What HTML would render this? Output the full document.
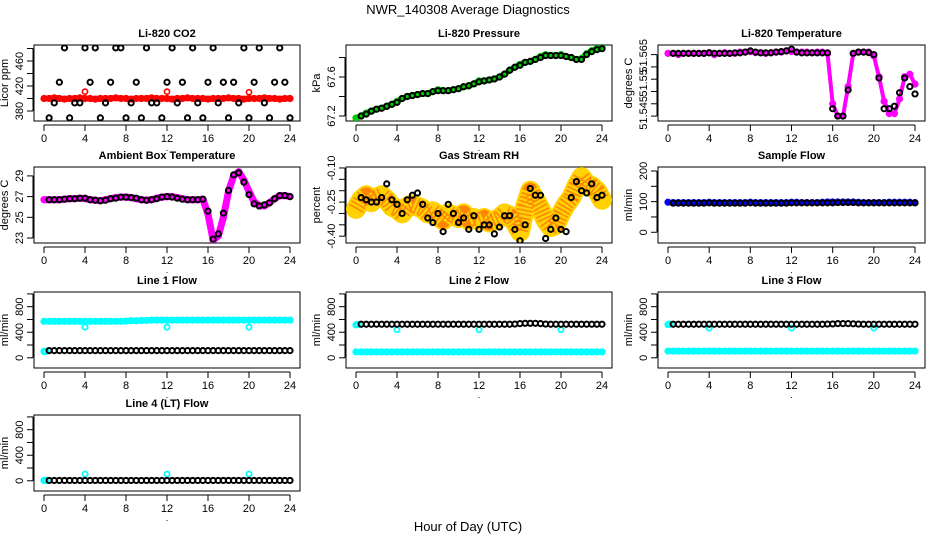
<!DOCTYPE html>
<html><head><meta charset="utf-8">
<style>
html,body{margin:0;padding:0;background:#fff;}
svg{display:block;font-family:"Liberation Sans",Arial,sans-serif;}
</style></head>
<body>
<svg id="chart" width="936" height="540" viewBox="0 0 936 540" xmlns="http://www.w3.org/2000/svg">
<text x="468" y="14" font-size="13" text-anchor="middle">NWR_140308  Average Diagnostics</text>
<text x="468" y="531" font-size="13" text-anchor="middle">Hour of Day (UTC)</text>
</svg>
<script>
const hAll=[0,0.5,1,1.5,2,2.5,3,3.5,4,4.5,5,5.5,6,6.5,7,7.5,8,8.5,9,9.5,10,10.5,11,11.5,12,12.5,13,13.5,14,14.5,15,15.5,16,16.5,17,17.5,18,18.5,19,19.5,20,20.5,21,21.5,22,22.5,23,23.5,24];
const hBlk=[0.5,1,1.5,2,2.5,3,3.5,4,4.5,5,5.5,6,6.5,7,7.5,8,8.5,9,9.5,10,10.5,11,11.5,12,12.5,13,13.5,14,14.5,15,15.5,16,16.5,17,17.5,18,18.5,19,19.5,20,20.5,21,21.5,22,22.5,23,23.5,24];
const hOut=[4,12,20];
const xTicks=[0,4,8,12,16,20,24];

const co2Black=[369,393,426,481,369,393,393,481,426,481,369,393,426,481,481,369,393,426,369,481,393,393,369,426,481,393,426,369,481,393,369,426,481,393,426,369,426,393,481,369,426,481,393,369,426,481,426,369];
const co2Red=[400,400,401,400,399,400,400,401,400,400,399,400,400,400,401,400,400,399,400,400,400,401,400,400,400,399,400,400,401,400,400,400,399,400,400,400,401,400,400,399,400,400,400,401,400,400,399,400,400];
const co2RedOut=[411,411,410];

const presGreen=[67.18,67.20,67.23,67.25,67.27,67.28,67.30,67.32,67.35,67.38,67.40,67.41,67.42,67.43,67.43,67.45,67.47,67.46,67.46,67.47,67.48,67.50,67.51,67.53,67.56,67.56,67.57,67.58,67.60,67.63,67.67,67.70,67.73,67.75,67.76,67.78,67.81,67.83,67.82,67.82,67.83,67.81,67.80,67.78,67.79,67.84,67.87,67.89,67.90];
const presBlack=[67.20,67.22,67.25,67.27,67.28,67.30,67.32,67.34,67.38,67.40,67.41,67.42,67.43,67.43,67.45,67.46,67.46,67.46,67.47,67.48,67.50,67.51,67.53,67.55,67.56,67.57,67.58,67.60,67.63,67.67,67.70,67.72,67.75,67.76,67.78,67.80,67.82,67.82,67.82,67.82,67.81,67.80,67.78,67.78,67.83,67.86,67.88,67.89];

const tempMag=[51.5655,51.5655,51.565,51.5655,51.5655,51.5655,51.5655,51.5655,51.5658,51.565,51.5655,51.5658,51.5655,51.5655,51.566,51.566,51.5662,51.5658,51.5658,51.5655,51.5658,51.566,51.566,51.5665,51.5662,51.566,51.566,51.566,51.5658,51.566,51.566,51.5655,51.545,51.540,51.540,51.552,51.5655,51.566,51.566,51.566,51.5645,51.556,51.546,51.541,51.541,51.547,51.556,51.557,51.553];
const tempBlack=[51.5655,51.5655,51.5655,51.5655,51.5655,51.5655,51.5655,51.5657,51.5655,51.5655,51.5655,51.5655,51.5657,51.5657,51.566,51.5665,51.566,51.5657,51.5657,51.5657,51.566,51.5662,51.5665,51.5672,51.566,51.5657,51.5657,51.5657,51.5657,51.5657,51.5657,51.543,51.540,51.540,51.5506,51.5655,51.566,51.566,51.5658,51.565,51.5555,51.543,51.543,51.544,51.5495,51.5555,51.552,51.549];

const ambMag=[26.7,26.7,26.7,26.7,26.75,26.8,26.8,26.85,26.8,26.7,26.65,26.6,26.7,26.8,26.9,26.95,26.95,26.9,26.8,26.7,26.65,26.7,26.85,26.95,27.0,27.0,26.9,26.8,26.7,26.7,26.7,26.75,25.3,22.8,23.2,25.0,27.5,29.0,29.4,28.6,27.5,26.5,26.1,26.1,26.4,26.8,27.1,27.1,27.0];
const ambBlack=[26.7,26.7,26.7,26.75,26.8,26.8,26.85,26.85,26.7,26.65,26.6,26.65,26.8,26.85,26.95,26.95,26.9,26.85,26.7,26.65,26.7,26.8,26.95,27.0,26.95,26.85,26.75,26.7,26.7,26.7,26.75,25.6,22.9,23.4,25.4,27.6,29.1,29.3,28.4,27.2,26.3,26.1,26.2,26.4,26.8,27.1,27.1,27.0];

const rhOrange=[-0.28,-0.24,-0.22,-0.25,-0.23,-0.22,-0.24,-0.27,-0.28,-0.30,-0.27,-0.26,-0.27,-0.28,-0.30,-0.29,-0.31,-0.33,-0.30,-0.31,-0.32,-0.30,-0.33,-0.32,-0.33,-0.32,-0.34,-0.33,-0.32,-0.30,-0.31,-0.34,-0.38,-0.27,-0.20,-0.24,-0.28,-0.33,-0.36,-0.35,-0.30,-0.26,-0.23,-0.18,-0.14,-0.17,-0.18,-0.20,-0.24];
const rhBlack=[-0.23,-0.24,-0.25,-0.25,-0.23,-0.17,-0.24,-0.26,-0.30,-0.24,-0.22,-0.21,-0.26,-0.32,-0.34,-0.30,-0.38,-0.26,-0.30,-0.34,-0.32,-0.37,-0.31,-0.37,-0.35,-0.35,-0.39,-0.36,-0.31,-0.31,-0.37,-0.42,-0.35,-0.19,-0.22,-0.22,-0.41,-0.37,-0.32,-0.37,-0.38,-0.23,-0.16,-0.20,-0.21,-0.17,-0.23,-0.22];

const sampBlue=[98,97,97,97,97,97,97,97,98,97,97,97,97,97,97,97,98,97,97,97,97,97,97,97,98,98,97,97,97,97,98,99,99,99,99,99,99,98,97,97,97,97,97,98,98,98,98,98,97];
const sampBlack=[95,95,95,95,95,95,95,96,95,95,95,95,95,95,95,96,95,95,95,95,95,95,95,96,96,96,96,96,96,96,96,96,97,97,97,97,96,96,96,96,96,96,96,96,96,96,96,96];

const l1Cyan=[570,570,570,570,570,570,570,570,570,570,570,570,570,570,570,570,575,580,580,585,585,590,590,590,590,590,590,590,590,590,590,590,590,590,590,590,590,590,590,590,590,590,590,590,590,590,590,590,590];
const l1CyanLow=[100,100,100];
const l1CyanOut=[480,480,480];
const l1Black=[112,112,112,112,112,112,112,112,112,112,112,112,112,112,112,112,112,112,112,112,112,112,112,112,112,112,112,112,112,112,112,112,112,112,112,112,112,112,112,112,112,112,112,112,112,112,112,112];

const l2Cyan=[92,92,92,92,92,92,92,92,92,92,92,92,92,92,92,92,92,92,92,92,92,92,92,92,92,92,92,92,92,92,92,92,92,92,92,92,92,92,92,92,92,92,92,92,92,92,92,92,92];
const l2CyanHigh=[515,520,520];
const l2CyanOut=[440,440,440];
const l2Black=[525,525,525,525,525,525,525,525,525,525,525,525,525,525,525,525,525,525,525,525,525,525,525,525,525,525,525,525,525,525,528,535,540,540,540,535,528,525,525,525,525,525,525,525,525,525,525,525];

const l3Cyan=[105,105,105,105,105,105,105,105,105,105,105,105,105,105,105,105,105,105,105,105,105,105,105,105,105,105,105,105,105,105,105,105,105,105,105,105,105,105,105,105,105,105,105,105,105,105,105,105,105];
const l3CyanHigh=[520,525,525];
const l3CyanOut=[465,465,465];
const l3Black=[525,525,525,525,525,525,525,525,525,525,525,525,525,525,525,525,525,525,525,525,525,525,525,525,525,525,525,525,525,525,528,530,535,535,535,532,528,525,525,525,525,525,525,525,525,525,525,525];

const l4Cyan=[5,5,5];
const l4CyanOut=[105,105,105];
const l4Black=[5,5,5,5,5,5,5,5,5,5,5,5,5,5,5,5,5,5,5,5,5,5,5,5,5,5,5,5,5,5,5,5,5,5,5,5,5,5,5,5,5,5,5,5,5,5,5,5];

const NS='http://www.w3.org/2000/svg';
const svg=document.getElementById('chart');
const colL=[34,346,658], colR=[300,612,925];
const rowT=[45,167,292,415];
function mk(tag,attrs,parent){const e=document.createElementNS(NS,tag);for(const k in attrs)e.setAttribute(k,attrs[k]);(parent||svg).appendChild(e);return e;}

function panel(cfg){
  const L=colL[cfg.col],R=colR[cfg.col],T=rowT[cfg.row],B=T+76;
  const g=mk('g',{});
  
  
  const xs=h=>L+10+(h/24)*(R-L-20);
  const ys=v=>B-(v-cfg.ymin)/(cfg.ymax-cfg.ymin)*(B-T);
  const t=mk('text',{x:(L+R)/2,y:T-8,'font-size':11,'font-weight':'bold','text-anchor':'middle'},g);
  t.textContent=cfg.title;
  
  
  const box=mk('rect',{x:L,y:T,width:R-L,height:B-T,fill:'none',stroke:'#000','stroke-width':1},g);
  
  
  const xa=mk('g',{},g);
  
  
  mk('line',{x1:xs(0),x2:xs(24),y1:B+4,y2:B+4,stroke:'#000'},xa);
  xTicks.forEach(v=>{
    mk('line',{x1:xs(v),x2:xs(v),y1:B+4,y2:B+10,stroke:'#000'},xa);
    const tl=mk('text',{x:xs(v),y:B+21,'font-size':11,'text-anchor':'middle'},xa);
    tl.textContent=v;
    
    
  });
  const dot=mk('text',{x:(L+R)/2,y:B+30,'font-size':9,'text-anchor':'middle'},xa);
  dot.textContent='.';
  const ya=mk('g',{},g);
  
  
  const yt=cfg.yticks;
  mk('line',{x1:L-1,x2:L-1,y1:ys(yt[0]),y2:ys(yt[yt.length-1]),stroke:'#000'},ya);
  yt.forEach(v=>{mk('line',{x1:L-7,x2:L-1,y1:ys(v),y2:ys(v),stroke:'#000'},ya);});
  cfg.ylabVals.forEach((v,i)=>{
    const yy=ys(v);
    const tl=mk('text',{x:L-11,y:yy,'font-size':11,'text-anchor':'middle',transform:`rotate(-90 ${L-11} ${yy})`},ya);
    tl.textContent=cfg.ylabTxt[i];
    
    
  });
  const ylab=mk('text',{x:L-26,y:(T+B)/2,'font-size':11,'text-anchor':'middle',transform:`rotate(-90 ${L-26} ${(T+B)/2})`},ya);
  ylab.textContent=cfg.ylab;
  
  
  const cp='cp'+cfg.name;
  const defs=mk('clipPath',{id:cp},g);
  mk('rect',{x:L,y:T,width:R-L,height:B-T},defs);
  const sg=mk('g',{'clip-path':`url(#${cp})`},g);
  cfg.series.forEach(s=>{
    const sgg=mk('g',{},sg);
    
    
    if(s.band){
      const pts=s.x.map((h,i)=>xs(h).toFixed(1)+','+ys(s.y[i]).toFixed(1)).join(' ');
      const pl=mk('polyline',{points:pts,fill:'none',stroke:s.color,'stroke-width':s.band,'stroke-linejoin':'round','stroke-linecap':'round',opacity:s.op||1},sgg);
      
      
      if(s.dash){
        const pl2=mk('polyline',{points:pts,fill:'none',stroke:s.dash,'stroke-width':s.band-4,'stroke-dasharray':'1.5 2.5','stroke-linejoin':'round',opacity:0.8},sgg);
        
        
      }
    }
    if(s.pts!==false){
      s.x.forEach((h,i)=>{
        const c=mk('circle',{cx:xs(h),cy:ys(s.y[i]),r:s.r||2.6,fill:'none',stroke:s.color,'stroke-width':s.sw||2},sgg);
        
        
      });
    }
  });
}

panel({name:'co2-panel',col:0,row:0,title:'Li-820 CO2',ylab:'Licor ppm',ymin:364,ymax:485.6,
  yticks:[380,400,420,440,460,480],ylabVals:[380,420,460],ylabTxt:['380','420','460'],
  series:[{name:'co2-red',x:hAll,y:co2Red,color:'#f00',band:6,sw:2},
          {name:'co2-red-outlier',x:hOut,y:co2RedOut,color:'#f00',sw:1.6},
          {name:'co2-black',x:hBlk,y:co2Black,color:'#000'}]});
panel({name:'pressure-panel',col:1,row:0,title:'Li-820 Pressure',ylab:'kPa',ymin:67.149,ymax:67.928,
  yticks:[67.2,67.4,67.6,67.8],ylabVals:[67.2,67.6],ylabTxt:['67.2','67.6'],
  series:[{name:'pressure-green',x:hAll,y:presGreen,color:'#0c0',band:6,sw:2},
          {name:'pressure-black',x:hBlk,y:presBlack,color:'#000'}]});
panel({name:'temperature-panel',col:2,row:0,title:'Li-820 Temperature',ylab:'degrees C',ymin:51.538,ymax:51.5689,
  yticks:[51.54,51.545,51.55,51.555,51.56,51.565],ylabVals:[51.5413,51.5535,51.5645],ylabTxt:['51.545','51.55','51.565'],
  series:[{name:'temperature-magenta',x:hAll,y:tempMag,color:'#f0f',band:4,sw:2},
          {name:'temperature-black',x:hBlk,y:tempBlack,color:'#000'}]});
panel({name:'ambient-panel',col:0,row:1,title:'Ambient Box Temperature',ylab:'degrees C',ymin:22.52,ymax:29.86,
  yticks:[23,25,27,29],ylabVals:[23,25,27,29],ylabTxt:['23','25','27','29'],
  series:[{name:'ambient-magenta',x:hAll,y:ambMag,color:'#f0f',band:7,sw:2},
          {name:'ambient-black',x:hBlk,y:ambBlack,color:'#000'}]});
panel({name:'rh-panel',col:1,row:1,title:'Gas Stream RH',ylab:'percent',ymin:-0.43,ymax:-0.0957,
  yticks:[-0.40,-0.35,-0.30,-0.25,-0.20,-0.15,-0.10],ylabVals:[-0.40,-0.25,-0.10],ylabTxt:['-0.40','-0.25','-0.10'],
  series:[{name:'rh-orange',x:hAll,y:rhOrange,color:'#ffd200',band:20,dash:'#ff7000',pts:false},
          {name:'rh-black',x:hBlk,y:rhBlack,color:'#000'}]});
panel({name:'sample-flow-panel',col:2,row:1,title:'Sample Flow',ylab:'ml/min',ymin:-35,ymax:213,
  yticks:[0,50,100,150,200],ylabVals:[0,100,200],ylabTxt:['0','100','200'],
  series:[{name:'sample-blue',x:hAll,y:sampBlue,color:'#00f',band:4,sw:2},
          {name:'sample-black',x:hBlk,y:sampBlack,color:'#000'}]});
const flowTicks=[0,200,400,600,800,1000];
panel({name:'line1-panel',col:0,row:2,title:'Line 1 Flow',ylab:'ml/min',ymin:-160,ymax:1030,
  yticks:flowTicks,ylabVals:[0,400,800],ylabTxt:['0','400','800'],
  series:[{name:'line1-cyan',x:hAll,y:l1Cyan,color:'#0ff',band:6,sw:2},
          {name:'line1-cyan-low',x:[0,0.1,0.2],y:l1CyanLow,color:'#0ff',sw:2},
          {name:'line1-cyan-outlier',x:hOut,y:l1CyanOut,color:'#0ff',sw:1.8},
          {name:'line1-black',x:hBlk,y:l1Black,color:'#000'}]});
panel({name:'line2-panel',col:1,row:2,title:'Line 2 Flow',ylab:'ml/min',ymin:-160,ymax:1030,
  yticks:flowTicks,ylabVals:[0,400,800],ylabTxt:['0','400','800'],
  series:[{name:'line2-cyan',x:hAll,y:l2Cyan,color:'#0ff',band:6,sw:2},
          {name:'line2-cyan-high',x:[0,0.1,0.2],y:l2CyanHigh,color:'#0ff',sw:2},
          {name:'line2-cyan-outlier',x:hOut,y:l2CyanOut,color:'#0ff',sw:1.8},
          {name:'line2-black',x:hBlk,y:l2Black,color:'#000'}]});
panel({name:'line3-panel',col:2,row:2,title:'Line 3 Flow',ylab:'ml/min',ymin:-160,ymax:1030,
  yticks:flowTicks,ylabVals:[0,400,800],ylabTxt:['0','400','800'],
  series:[{name:'line3-cyan',x:hAll,y:l3Cyan,color:'#0ff',band:6,sw:2},
          {name:'line3-cyan-high',x:[0,0.1,0.2],y:l3CyanHigh,color:'#0ff',sw:2},
          {name:'line3-cyan-outlier',x:hOut,y:l3CyanOut,color:'#0ff',sw:1.8},
          {name:'line3-black',x:hBlk,y:l3Black,color:'#000'}]});
panel({name:'line4-panel',col:0,row:3,title:'Line 4 (LT) Flow',ylab:'ml/min',ymin:-160,ymax:1030,
  yticks:flowTicks,ylabVals:[0,400,800],ylabTxt:['0','400','800'],
  series:[{name:'line4-cyan',x:[0,0.1,0.2],y:l4Cyan,color:'#0ff',sw:2},
          {name:'line4-cyan-outlier',x:hOut,y:l4CyanOut,color:'#0ff',sw:1.8},
          {name:'line4-black',x:hBlk,y:l4Black,color:'#000'}]});
</script>
</body></html>
